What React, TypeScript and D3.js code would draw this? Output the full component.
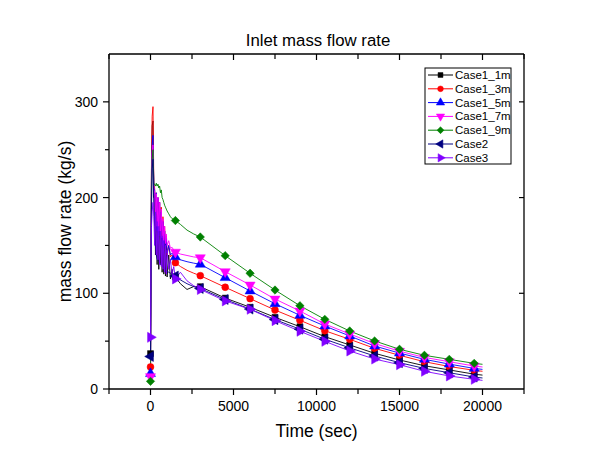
import React from 'react';
import * as d3 from 'd3';

const W = 609;
const H = 466;
const PLOT = { left: 109, right: 524, top: 54, bottom: 389 };

const X_DOMAIN = [-2500, 22500];
const Y_DOMAIN = [0, 350];
const X_MAJOR = [0, 5000, 10000, 15000, 20000];
const X_MINOR = [-2500, 2500, 7500, 12500, 17500, 22500];
const Y_MAJOR = [0, 100, 200, 300];
const Y_MINOR = [50, 150, 250];

const TIME_EARLY = [0, 30, 60, 100, 150, 200, 250, 300, 350, 400, 450, 500, 550, 600, 650, 700, 750, 800, 850, 900, 950, 1000, 1100, 1200, 1300, 1400, 1500];
const TIME_MID = [1800, 2200, 2600];
const TIME_LATE = [3000, 4500, 6000, 7500, 9000, 10500, 12000, 13500, 15000, 16500, 18000, 19500, 20000];

const NAMES = ['Case1_1m', 'Case1_3m', 'Case1_5m', 'Case1_7m', 'Case1_9m', 'Case2', 'Case3'];
const COLORS = ['#000000', '#ff0000', '#0000ff', '#ff00ff', '#008000', '#000080', '#8000ff'];
const SHAPES = ['square', 'circle', 'up', 'down', 'diamond', 'left', 'right'];

const EARLY_1M = [37, 150, 230, 275, 280, 200, 205, 140, 198, 130, 195, 125, 190, 130, 185, 122, 175, 120, 165, 118, 150, 117, 140, 115, 125, 112, 117];
const EARLY_3M = [23, 140, 240, 285, 295, 215, 210, 180, 205, 170, 200, 160, 195, 165, 190, 150, 180, 150, 170, 145, 160, 140, 150, 138, 140, 134, 132];
const EARLY_5M = [16, 130, 220, 255, 265, 210, 208, 175, 205, 165, 200, 160, 195, 158, 185, 150, 175, 148, 165, 145, 158, 142, 150, 140, 142, 139, 138];
const EARLY_7M = [13, 120, 210, 245, 255, 208, 206, 180, 204, 170, 200, 165, 195, 160, 188, 158, 178, 155, 170, 152, 162, 150, 155, 147, 148, 145, 143];
const EARLY_9M = [8, 110, 200, 240, 250, 214, 214, 212, 215, 212, 214, 210, 212, 205, 208, 200, 198, 195, 192, 190, 188, 186, 183, 180, 178, 177, 176];
const EARLY_C2 = [34, 120, 190, 230, 240, 190, 170, 150, 140, 136, 134, 133, 132, 131, 130, 129, 128, 127, 126, 125, 124, 123, 122, 121, 120, 119, 118];
const EARLY_C3 = [54, 140, 170, 185, 195, 180, 150, 185, 140, 175, 135, 170, 130, 165, 128, 160, 125, 155, 122, 150, 120, 145, 125, 135, 120, 128, 115];

const MID_1M = [110, 104, 107];
const MID_3M = [128, 124, 121];
const MID_5M = [135, 133, 131.5];
const MID_7M = [141, 139.5, 138];
const MID_9M = [172, 166, 162];
const MID_C2 = [114, 110, 107];
const MID_C3 = [122, 113, 108];

const LATE_1M = [106.9, 95, 85.4, 74.9, 65.1, 54.7, 46.0, 37.3, 30.3, 24.3, 19.9, 15.5, 14.5];
const LATE_3M = [118.4, 106.3, 94.4, 82.5, 71.8, 60.9, 51.9, 42.5, 35.2, 28.5, 23.5, 19.5, 18.5];
const LATE_5M = [130.3, 116.3, 102.4, 89.1, 77.0, 65.8, 55.4, 44.9, 37.5, 31, 26, 21.5, 20.5];
const LATE_7M = [137.2, 122.6, 108.7, 94.0, 81.5, 67.9, 57.5, 47.5, 39.5, 33, 28.5, 24, 23];
const LATE_9M = [158.8, 139.3, 120.9, 103.4, 87.0, 72.8, 60.6, 50.2, 41.5, 35.2, 31.0, 26.8, 25.8];
const LATE_C2 = [105, 93.5, 83.5, 72.5, 62.5, 52, 43, 34.5, 27.5, 21.5, 17, 12.5, 11.5];
const LATE_C3 = [104, 92, 83.3, 71.4, 60.3, 49.8, 39.7, 31.3, 25.4, 18.5, 13.6, 10.1, 9];

const EARLY = [EARLY_1M, EARLY_3M, EARLY_5M, EARLY_7M, EARLY_9M, EARLY_C2, EARLY_C3];
const MID = [MID_1M, MID_3M, MID_5M, MID_7M, MID_9M, MID_C2, MID_C3];
const LATE = [LATE_1M, LATE_3M, LATE_5M, LATE_7M, LATE_9M, LATE_C2, LATE_C3];

const MARKER_STEP = 1500;
const FONT = 'Arial, "Liberation Sans", sans-serif';

type Pt = { t: number; v: number };

function seriesPoints(i: number): Pt[] {
  const pts: Pt[] = [];
  TIME_EARLY.forEach((t, k) => pts.push({ t, v: EARLY[i][k] }));
  TIME_MID.forEach((t, k) => pts.push({ t, v: MID[i][k] }));
  TIME_LATE.forEach((t, k) => pts.push({ t, v: LATE[i][k] }));
  return pts;
}

function symbolPath(shape: string, size: number): { d: string; rot: number } {
  let type: any = d3.symbolSquare;
  let rot = 0;
  if (shape === 'circle') type = d3.symbolCircle;
  else if (shape === 'up') type = d3.symbolTriangle;
  else if (shape === 'down') { type = d3.symbolTriangle; rot = 180; }
  else if (shape === 'left') { type = d3.symbolTriangle; rot = -90; }
  else if (shape === 'right') { type = d3.symbolTriangle; rot = 90; }
  else if (shape === 'diamond') { type = d3.symbolSquare; rot = 45; }
  const s = shape === 'circle' ? size * 0.85 : shape === 'square' || shape === 'diamond' ? size * 0.8 : size;
  return { d: d3.symbol().type(type).size(s)() as string, rot };
}

function Marker({ x, y, shape, color, size }: { x: number; y: number; shape: string; color: string; size: number }) {
  const { d, rot } = symbolPath(shape, size);
  return <path d={d} transform={`translate(${x},${y}) rotate(${rot})`} fill={color} stroke={color} strokeWidth={0.5} />;
}

export default function App() {
  const x = d3.scaleLinear().domain(X_DOMAIN).range([PLOT.left, PLOT.right]);
  const y = d3.scaleLinear().domain(Y_DOMAIN).range([PLOT.bottom, PLOT.top]);
  const line = d3.line<Pt>().x((p) => x(p.t)).y((p) => y(p.v));
  const all = NAMES.map((_, i) => seriesPoints(i));
  const legendX = 425;
  const legendY = 68;
  const rowH = 13.8;

  return (
    <svg width={W} height={H} style={{ position: 'absolute', left: 0, top: 0, background: '#fff' }} fontFamily={FONT}>
      <rect x={0} y={0} width={W} height={H} fill="#fff" />
      <text x={(PLOT.left + PLOT.right) / 2 + 1.5} y={46} textAnchor="middle" fontSize={16.8}>Inlet mass flow rate</text>

      {/* series */}
      <g>
        {all.map((pts, i) => (
          <path key={NAMES[i]} d={line(pts) as string} fill="none" stroke={COLORS[i]} strokeWidth={0.9} />
        ))}
        {all.map((pts, i) => (
          <g key={'m' + NAMES[i]}>
            {pts.filter((p) => p.t % MARKER_STEP === 0).map((p) => (
              <Marker key={p.t} x={x(p.t)} y={y(p.v)} shape={SHAPES[i]} color={COLORS[i]} size={44} />
            ))}
          </g>
        ))}
      </g>

      {/* frame */}
      <g stroke="#000" strokeWidth={1.3} fill="none">
        <line x1={PLOT.left} x2={PLOT.right} y1={PLOT.bottom} y2={PLOT.bottom} />
        <line x1={PLOT.left} x2={PLOT.right} y1={PLOT.top} y2={PLOT.top} />
        <line x1={PLOT.left} x2={PLOT.left} y1={PLOT.top} y2={PLOT.bottom} />
        <line x1={PLOT.right} x2={PLOT.right} y1={PLOT.top} y2={PLOT.bottom} />
      </g>
      <g stroke="#000" strokeWidth={1.2}>
        {X_MAJOR.map((t) => (
          <g key={'xM' + t}>
            <line x1={x(t)} x2={x(t)} y1={PLOT.bottom} y2={PLOT.bottom + 6} />
            <line x1={x(t)} x2={x(t)} y1={PLOT.top} y2={PLOT.top + 6} />
          </g>
        ))}
        {X_MINOR.map((t) => (
          <g key={'xm' + t}>
            <line x1={x(t)} x2={x(t)} y1={PLOT.bottom} y2={PLOT.bottom + 5} />
            <line x1={x(t)} x2={x(t)} y1={PLOT.top} y2={PLOT.top + 5} />
          </g>
        ))}
        {Y_MAJOR.map((v) => (
          <g key={'yM' + v}>
            <line x1={PLOT.left - 6} x2={PLOT.left} y1={y(v)} y2={y(v)} />
            {v > 0 && <line x1={PLOT.right - 5} x2={PLOT.right} y1={y(v)} y2={y(v)} />}
          </g>
        ))}
        {Y_MINOR.map((v) => (
          <line key={'ym' + v} x1={PLOT.left - 4} x2={PLOT.left} y1={y(v)} y2={y(v)} />
        ))}
      </g>
      <g fontSize={14} fill="#000">
        {X_MAJOR.map((t) => (
          <text key={'xl' + t} x={x(t)} y={PLOT.bottom + 22} textAnchor="middle">{t}</text>
        ))}
        {Y_MAJOR.map((v) => (
          <text key={'yl' + v} x={PLOT.left - 11} y={y(v) + 5} textAnchor="end">{v}</text>
        ))}
      </g>
      <text x={(PLOT.left + PLOT.right) / 2} y={437} textAnchor="middle" fontSize={17.5}>Time (sec)</text>
      <text transform={`translate(71,${(PLOT.top + PLOT.bottom) / 2}) rotate(-90)`} textAnchor="middle" fontSize={17.5}>mass flow rate (kg/s)</text>

      {/* legend */}
      <rect x={legendX} y={legendY} width={86} height={96} fill="#fff" stroke="#000" strokeWidth={1} />
      {NAMES.map((n, i) => {
        const cy = legendY + 7 + i * rowH;
        return (
          <g key={'lg' + n}>
            <line x1={legendX + 3} x2={legendX + 28} y1={cy} y2={cy} stroke={COLORS[i]} strokeWidth={1} />
            <Marker x={legendX + 15.5} y={cy} shape={SHAPES[i]} color={COLORS[i]} size={30} />
            <text x={legendX + 30} y={cy + 4} fontSize={11.5}>{n}</text>
          </g>
        );
      })}
    </svg>
  );
}
